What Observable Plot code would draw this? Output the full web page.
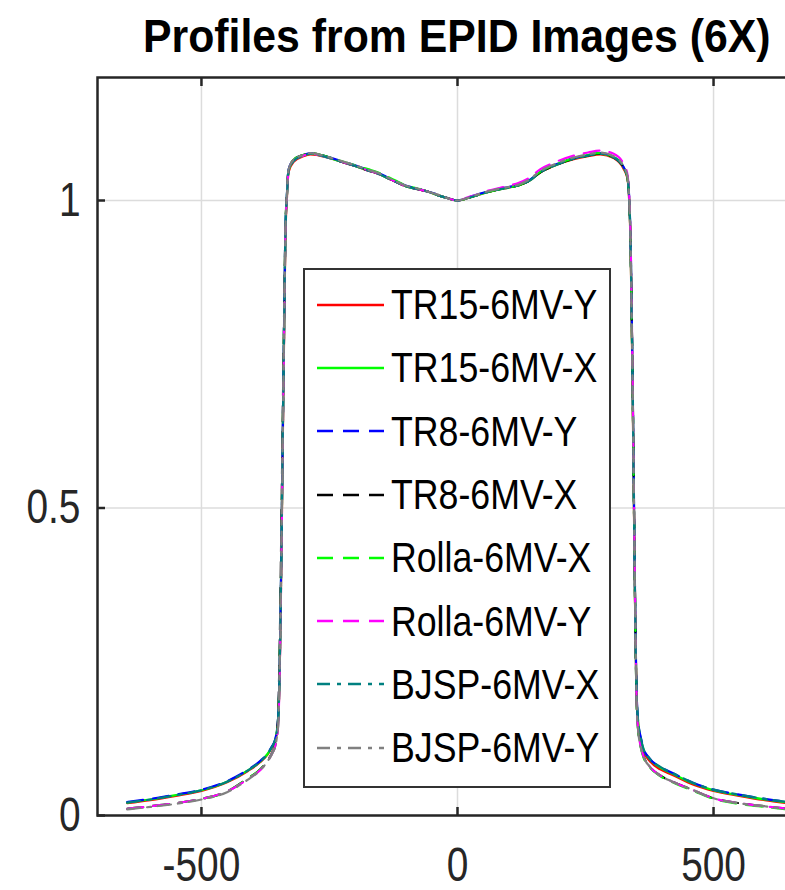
<!DOCTYPE html>
<html><head><meta charset="utf-8">
<script src="https://cdn.jsdelivr.net/npm/d3@7"></script>
<script src="https://cdn.jsdelivr.net/npm/@observablehq/plot@0.6"></script>
<style>
html,body{margin:0;padding:0;background:#fff;overflow:hidden;width:785px;height:890px;}
#wrap{position:relative;width:820px;height:890px;}
#title{position:absolute;left:97px;width:720px;top:12px;text-align:center;font-weight:bold;font-size:47px;line-height:47px;font-family:"Liberation Sans","Arial",sans-serif;color:#000;white-space:nowrap;}
#title span{display:inline-block;transform:scaleX(0.91);transform-origin:center center;}
#chart{position:absolute;left:0;top:0;}
#legend{position:absolute;left:303px;top:268px;width:304px;height:513px;border:2px solid #333;background:#fff;padding-top:3px;box-sizing:content-box;}
.row{height:63.3px;display:flex;align-items:center;}
.row svg{margin-left:12px;margin-right:7px;flex:none;}
.row span{display:inline-block;transform:scaleX(0.83);transform-origin:left center;font-family:"Liberation Sans","Arial",sans-serif;font-size:43px;line-height:43px;color:#000;white-space:nowrap;}
</style></head>
<body><div id="wrap"><div id="title"><span>Profiles from EPID Images (6X)</span></div><div id="chart"></div><div id="legend"></div></div>
<script>
const xTicks = [-500, 0, 500];
const yTicks = [0, 0.5, 1];
const yTickLabels = ["0", "0.5", "1"];
const seriesNames = ["TR15-6MV-Y","TR15-6MV-X","TR8-6MV-Y","TR8-6MV-X","Rolla-6MV-X","Rolla-6MV-Y","BJSP-6MV-X","BJSP-6MV-Y"];
const seriesColors = ["#ff0000","#00ff00","#0000ff","#000000","#00ff00","#ff00ff","#008080","#808080"];
const seriesDash = ["none","none","16,10","16,10","16,10","16,10","13,7,4,7","13,7,4,7"];

const pos = [-645,-600,-550,-500,-450,-410,-385,-371,-362,-357,
 -353,-350,-348,-346,-344,-342,-340,-338,-336,-333,
 -330,-320,-301,-287,-254,-230,-203,-175,-156,-140,
 -120,-100,-80,-60,-40,-20,0,20,40,60,
 80,100,120,140,162,190,227,255,279,305,
 324,332,334,336,338,340,342,344,346,348,
 350,353,358,363,375,396,420,461,500,550,
 600,645];

const tr15Y = [0.020,0.025,0.032,0.040,0.054,0.072,0.087,0.099,0.111,0.119,
 0.133,0.158,0.205,0.290,0.410,0.550,0.690,0.820,0.940,1.005,
 1.046,1.063,1.072,1.075,1.070,1.064,1.057,1.049,1.044,1.038,
 1.030,1.023,1.019,1.015,1.009,1.004,1.000,1.004,1.009,1.014,
 1.018,1.021,1.025,1.032,1.046,1.057,1.067,1.072,1.075,1.069,
 1.052,1.035,1.018,0.985,0.925,0.815,0.690,0.540,0.390,0.265,
 0.188,0.148,0.122,0.105,0.089,0.075,0.066,0.050,0.040,0.032,
 0.025,0.020];
const tr15X = [0.021,0.026,0.033,0.041,0.055,0.073,0.088,0.100,0.112,0.120,
 0.135,0.160,0.210,0.300,0.420,0.560,0.700,0.830,0.950,1.010,
 1.049,1.065,1.073,1.076,1.070,1.064,1.057,1.049,1.044,1.038,
 1.030,1.023,1.019,1.015,1.009,1.004,1.000,1.004,1.009,1.014,
 1.018,1.021,1.025,1.032,1.046,1.057,1.068,1.073,1.076,1.070,
 1.054,1.037,1.020,0.990,0.930,0.820,0.700,0.550,0.400,0.270,
 0.190,0.150,0.125,0.108,0.092,0.078,0.068,0.052,0.041,0.033,
 0.026,0.021];
const tr8Y = [0.022,0.027,0.034,0.042,0.056,0.074,0.089,0.101,0.113,0.121,
 0.137,0.163,0.215,0.310,0.430,0.570,0.710,0.840,0.955,1.012,
 1.050,1.066,1.074,1.077,1.071,1.065,1.058,1.050,1.045,1.039,
 1.031,1.024,1.020,1.015,1.010,1.004,1.000,1.005,1.010,1.015,
 1.019,1.022,1.026,1.033,1.047,1.058,1.069,1.074,1.077,1.071,
 1.055,1.038,1.022,0.992,0.935,0.830,0.710,0.560,0.410,0.280,
 0.195,0.152,0.127,0.110,0.093,0.079,0.069,0.053,0.042,0.034,
 0.027,0.022];
const tr8X = [0.011,0.015,0.020,0.027,0.039,0.060,0.075,0.089,0.102,0.112,
 0.130,0.165,0.240,0.340,0.470,0.600,0.730,0.850,0.955,1.012,
 1.050,1.066,1.074,1.077,1.071,1.064,1.057,1.049,1.044,1.038,
 1.030,1.023,1.019,1.015,1.009,1.004,1.000,1.004,1.009,1.014,
 1.018,1.021,1.025,1.032,1.046,1.057,1.068,1.073,1.076,1.070,
 1.054,1.037,1.020,0.990,0.930,0.820,0.700,0.550,0.400,0.265,
 0.180,0.138,0.112,0.097,0.080,0.065,0.055,0.041,0.028,0.020,
 0.015,0.011];
const rollaX = [0.011,0.015,0.020,0.027,0.039,0.060,0.075,0.088,0.101,0.110,
 0.125,0.150,0.210,0.300,0.420,0.560,0.700,0.830,0.950,1.010,
 1.049,1.066,1.074,1.077,1.071,1.065,1.058,1.051,1.046,1.040,
 1.032,1.024,1.020,1.015,1.009,1.004,1.000,1.004,1.009,1.014,
 1.018,1.021,1.025,1.033,1.047,1.058,1.069,1.074,1.077,1.071,
 1.055,1.038,1.020,0.990,0.930,0.820,0.700,0.550,0.400,0.265,
 0.178,0.136,0.110,0.095,0.079,0.064,0.054,0.040,0.027,0.019,
 0.014,0.010];
const rollaY = [0.011,0.015,0.020,0.027,0.039,0.059,0.074,0.088,0.101,0.110,
 0.125,0.150,0.200,0.290,0.410,0.550,0.690,0.820,0.945,1.008,
 1.048,1.065,1.073,1.076,1.070,1.064,1.057,1.049,1.044,1.038,
 1.030,1.023,1.019,1.015,1.009,1.004,1.000,1.005,1.010,1.016,
 1.020,1.024,1.029,1.037,1.051,1.062,1.073,1.078,1.081,1.076,
 1.060,1.042,1.025,0.995,0.940,0.830,0.710,0.560,0.410,0.275,
 0.182,0.138,0.112,0.097,0.080,0.065,0.055,0.041,0.028,0.020,
 0.015,0.011];
const bjspX = [0.021,0.026,0.033,0.041,0.055,0.073,0.088,0.100,0.112,0.121,
 0.136,0.162,0.210,0.300,0.420,0.560,0.700,0.830,0.950,1.010,
 1.048,1.064,1.073,1.076,1.070,1.064,1.057,1.049,1.044,1.038,
 1.030,1.023,1.019,1.015,1.009,1.004,1.000,1.004,1.009,1.014,
 1.018,1.021,1.025,1.032,1.046,1.057,1.068,1.073,1.076,1.070,
 1.054,1.037,1.020,0.990,0.930,0.820,0.700,0.550,0.400,0.272,
 0.192,0.152,0.126,0.109,0.093,0.079,0.069,0.053,0.042,0.034,
 0.027,0.022];
const bjspY = [0.010,0.014,0.019,0.026,0.038,0.058,0.074,0.088,0.101,0.110,
 0.126,0.152,0.210,0.300,0.420,0.560,0.700,0.830,0.950,1.010,
 1.050,1.066,1.074,1.077,1.071,1.065,1.058,1.050,1.045,1.039,
 1.031,1.024,1.020,1.015,1.010,1.004,1.000,1.004,1.010,1.015,
 1.019,1.022,1.026,1.034,1.048,1.059,1.070,1.075,1.078,1.072,
 1.056,1.039,1.021,0.990,0.930,0.820,0.700,0.550,0.400,0.268,
 0.180,0.137,0.111,0.096,0.080,0.065,0.055,0.041,0.028,0.020,
 0.015,0.010];

const seriesValues = [tr15Y, tr15X, tr8Y, tr8X, rollaX, rollaY, bjspX, bjspY];
const FONT = '"Liberation Sans","Arial",sans-serif';

const lineMarks = seriesValues.map((vals, k) => Plot.line(
  pos.map((p, i) => ({x: p, y: vals[i]})),
  {x: "x", y: "y", stroke: seriesColors[k], strokeWidth: 2.2,
   strokeDasharray: seriesDash[k] === "none" ? null : seriesDash[k],
   curve: "monotone-x", clip: true}
));

const chart = Plot.plot({
  width: 820, height: 890,
  marginLeft: 97, marginRight: 3, marginTop: 77, marginBottom: 75,
  style: {fontFamily: FONT, color: "#262626", background: "transparent", overflow: "visible"},
  x: {domain: [-703, 703]},
  y: {domain: [0, 1.2]},
  marks: [
    Plot.gridX(xTicks, {stroke: "#dcdcdc", strokeOpacity: 1, strokeWidth: 1.5}),
    Plot.gridY(yTicks, {stroke: "#dcdcdc", strokeOpacity: 1, strokeWidth: 1.5}),
    ...lineMarks,
    Plot.axisX(xTicks, {anchor: "bottom", tickSize: -8, tickPadding: 39, strokeWidth: 2.5, fontSize: 48, tickFormat: d => String(d), label: null}),
    Plot.axisX(xTicks, {anchor: "top", tickSize: -8, strokeWidth: 2.5, tickFormat: () => "", label: null}),
    Plot.axisY(yTicks, {anchor: "left", tickSize: -8, tickPadding: 25, strokeWidth: 2.5, fontSize: 48, tickFormat: d => yTickLabels[yTicks.indexOf(d)], label: null}),
    Plot.frame({stroke: "#262626", strokeWidth: 2.5})
  ]
});
document.getElementById("chart").appendChild(chart);

// condense axis tick labels horizontally about their anchor point
d3.select(chart).selectAll('g[aria-label="x-axis tick label"] text, g[aria-label="y-axis tick label"] text').each(function() {
  const x = +this.getAttribute("x") || 0, y = +this.getAttribute("y") || 0;
  const t = this.getAttribute("transform") || "";
  this.setAttribute("transform", `${t} translate(${x},${y}) scale(0.81,1) translate(${-x},${-y})`);
});

const legend = document.getElementById("legend");
seriesNames.forEach((name, k) => {
  const row = document.createElement("div");
  row.className = "row";
  const dash = seriesDash[k] === "none" ? "" : `stroke-dasharray="${seriesDash[k]}"`;
  row.innerHTML = `<svg width="67" height="10"><line x1="0" y1="5" x2="67" y2="5" stroke="${seriesColors[k]}" stroke-width="2.5" ${dash}/></svg><span>${name}</span>`;
  legend.appendChild(row);
});
</script></body></html>
